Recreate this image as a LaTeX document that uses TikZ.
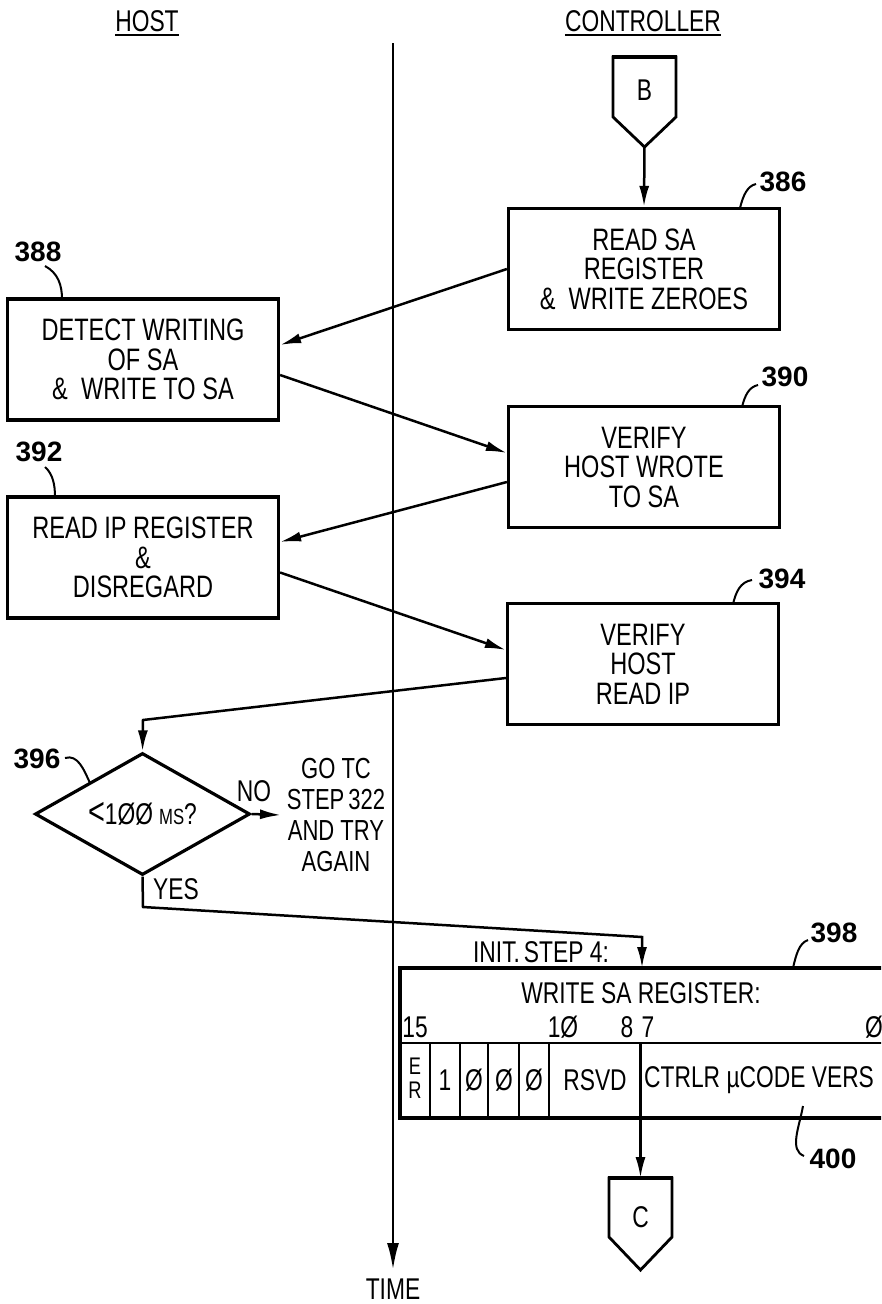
\documentclass[tikz,border=0pt]{standalone}
\usepackage{fontspec}
\setmainfont{Liberation Sans}[FakeStretch=0.76]
\newfontfamily\labfont{Liberation Sans}
\usetikzlibrary{arrows.meta,shapes.geometric}
\begin{document}
\begin{tikzpicture}[x=1pt,y=-1pt,
  every node/.style={inner sep=0pt},
  box/.style={draw, line width=3.2pt, minimum width=271pt, minimum height=121pt, align=center, font=\fontsize{31}{29.5}\selectfont},
  txt/.style={font=\fontsize{30}{29}\selectfont},
  lab/.style={font=\labfont\bfseries\fontsize{28}{28}\selectfont},
  arr/.style={line width=2.5pt, -{Latex[length=21pt,width=10pt]}},
  leader/.style={line width=2pt},
  frame/.style={line width=2.8pt},
  topedge/.style={line width=4.8pt},
]
\useasboundingbox (0,0) rectangle (881,1304);
\clip (0,0) rectangle (881,1304);

% headers
\node[txt] (hhost) at (147,21) {HOST};
\node[txt] (hctl) at (643,21) {CONTROLLER};
\draw[line width=2.2pt] ([yshift=-3.5pt]hhost.base west) -- ([yshift=-3.5pt]hhost.base east);
\draw[line width=2.2pt] ([yshift=-3.5pt]hctl.base west) -- ([yshift=-3.5pt]hctl.base east);

% time axis
\coordinate (t0) at (393,43);
\coordinate (t1) at (393,1270);
\draw[line width=2.8pt, -{Latex[length=27pt,width=12pt]}] (t0) -- (t1);
\node[txt] (time) at (393,1289) {TIME};

% boxes
\node[box] (b386) at (644,269) {READ SA\\REGISTER\\\&~ WRITE ZEROES};
\node[box] (b388) at (143,359.5) {DETECT WRITING\\OF SA\\\&~ WRITE TO SA};
\node[box] (b390) at (644,467) {VERIFY\\HOST WROTE\\TO SA};
\node[box] (b392) at (143,557.5) {READ IP REGISTER\\\&\\DISREGARD};
\node[box] (b394) at (643,664) {VERIFY\\HOST\\READ IP};

% connector B
\draw[frame] (613,117) -- (613,57) -- (676,57) -- (676,117) -- (644.5,147) -- cycle;
\draw[topedge] (612,57) -- (677,57);
\node[txt] (nB) at (644.5,90) {B};
\coordinate (bpt) at (644.5,147);
\draw[arr] (bpt) -- (b386.north);

% arrows between boxes
\draw[arr] (b386.west) -- ([yshift=14.5pt]b388.east);
\draw[arr] ([yshift=-15.5pt]b388.east) -- ([yshift=14pt]b390.west);
\draw[arr] ([yshift=-15pt]b390.west) -- ([yshift=15.5pt]b392.east);
\draw[arr] ([yshift=-15pt]b392.east) -- ([yshift=14pt]b394.west);

% decision
\node[draw, diamond, line width=3.2pt, minimum width=215pt, minimum height=122pt, aspect=1.76, inner sep=0pt, font=\fontsize{30}{29}\selectfont] (d396) at (142.5,814)
  {{\fontsize{38}{38}\selectfont<}1ØØ\hspace{6pt}{\fontsize{22}{22}\selectfont MS}?};
\coordinate (k1) at (143,720);
\draw[arr] ([yshift=-14pt]b394.west) -- (k1) -- (d396.north);

\node[txt] (no) at (254,791) {NO};
\coordinate (noend) at (281,815);
\draw[arr] (d396.east) -- (noend);
\node[align=center, font=\fontsize{29}{31}\selectfont] (goto) at (336,815) {GO TC\\STEP\hspace{4pt}322\\AND TRY\\AGAIN};

\node[txt] (yes) at (176,889) {YES};
\coordinate (y1) at (143,907);
\coordinate (y2) at (642,937);
\coordinate (regin) at (642,968);
\draw[arr] (d396.south) -- (y1) -- (y2) -- (regin);

% register
\draw[line width=3.2pt] (885,968) -- (400,968) -- (400,1118) -- (885,1118);
\draw[frame] (400,1043) -- (885,1043);
\foreach \x in {430,460,488,519,549} \draw[frame] (\x,1043) -- (\x,1118);
\coordinate (rd) at (640.5,1043);
\coordinate (cin) at (640.5,1178);
\draw[arr] (rd) -- (cin);

\node[txt] (init) at (541,952) {INIT.\hspace{4pt}STEP 4:};
\node[txt] (wsa) at (641,993) {WRITE SA REGISTER:};
\node[txt] (n15) at (415,1027) {15};
\node[txt] (n10) at (563,1027) {1Ø};
\node[txt] (n8) at (627,1027) {8};
\node[txt] (n7) at (648,1027) {7};
\node[txt] (n0) at (874,1027) {Ø};
\node[align=center, font=\fontsize{24}{24}\selectfont] (er) at (415,1078) {E\\R};
\node[txt] (f1) at (445,1080) {1};
\node[txt] (f2) at (474,1080) {Ø};
\node[txt] (f3) at (504,1080) {Ø};
\node[txt] (f4) at (534,1080) {Ø};
\node[txt] (rsvd) at (595,1080) {RSVD};
\node[txt, anchor=west] (ctr) at (644,1080) {CTRLR µCODE VERS};

% connector C
\draw[frame] (609,1237) -- (609,1178) -- (672,1178) -- (672,1237) -- (640.5,1270) -- cycle;
\draw[topedge] (608,1178) -- (673,1178);
\node[txt] (nC) at (640.5,1217) {C};

% reference labels
\node[lab] (l386) at (783,182) {386};
\draw[leader] (740,208) .. controls (743,196) and (747,186) .. (756,184);
\node[lab] (l390) at (785,377) {390};
\draw[leader] (742,407) .. controls (745,395) and (749,387) .. (758,385);
\node[lab] (l394) at (782,579) {394};
\draw[leader] (733,604) .. controls (736,592) and (740,582) .. (752,580);
\node[lab] (l398) at (834,933) {398};
\draw[leader] (793,968) .. controls (796,955) and (799,943) .. (808,940);
\node[lab] (l388) at (38,252) {388};
\draw[leader] (45,266) .. controls (58,273) and (62,285) .. (62,299);
\node[lab] (l392) at (39,452) {392};
\draw[leader] (45,467) .. controls (53,474) and (55,485) .. (55,497);
\node[lab] (l396) at (37,759) {396};
\draw[leader] (65,758) .. controls (78,754) and (84,770) .. (90,783);
\node[lab] (l400) at (833,1159) {400};
\draw[leader] (803,1106) .. controls (799,1128) and (789,1150) .. (804,1156);
\end{tikzpicture}
\end{document}
